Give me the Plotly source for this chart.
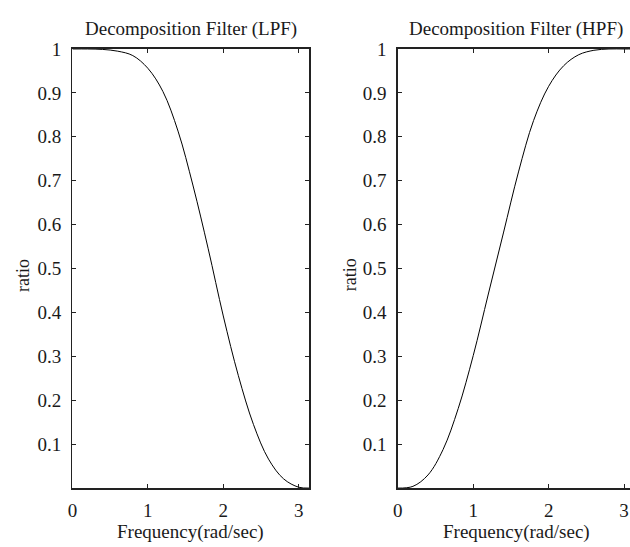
import plotly.graph_objects as go
from plotly.subplots import make_subplots

# Data
freq = [0.0, 0.2, 0.4, 0.6, 0.8, 1.0, 1.2, 1.4, 1.6, 1.8, 2.0, 2.2, 2.4, 2.6, 2.8, 3.0, 3.1416]
lpf = [1.0, 1.0, 0.999, 0.995, 0.985, 0.956, 0.903, 0.813, 0.688, 0.545, 0.392, 0.256, 0.145, 0.066, 0.021, 0.002, 0.0]
hpf = [0.0, 0.004, 0.030, 0.088, 0.181, 0.302, 0.442, 0.581, 0.720, 0.837, 0.915, 0.962, 0.987, 0.997, 1.0, 1.0, 1.0]

y_ticks = [0.1, 0.2, 0.3, 0.4, 0.5, 0.6, 0.7, 0.8, 0.9, 1.0]
y_ticktext = ["0.1", "0.2", "0.3", "0.4", "0.5", "0.6", "0.7", "0.8", "0.9", "1"]
x_ticks = [0, 1, 2, 3]
x_ticktext = ["0", "1", "2", "3"]

titles = ["Decomposition Filter (LPF)", "Decomposition Filter (HPF)"]
x_title = "Frequency(rad/sec)"
y_title = "ratio"

W, H = 630, 547
FONT = "Liberation Serif, Times New Roman, serif"
FS = 19
TXT = "#1a1a1a"

fig = make_subplots(rows=1, cols=2)

fig.add_trace(go.Scatter(x=freq, y=lpf, mode="lines",
                         line=dict(color="black", width=1, shape="spline", smoothing=1.0),
                         showlegend=False, hoverinfo="skip"), row=1, col=1)
fig.add_trace(go.Scatter(x=freq, y=hpf, mode="lines",
                         line=dict(color="black", width=1, shape="spline", smoothing=1.0),
                         showlegend=False, hoverinfo="skip"), row=1, col=2)

# pixel geometry
left_x0, left_x1 = 68, 306.8
right_x0 = 396
px_per_unit = 76.0
top_px, bot_px = 39.7, 487

ydom = [(H - bot_px) / H, (H - top_px) / H]

axis_common = dict(showgrid=False, zeroline=False, showline=True, linecolor="#222", linewidth=1.5,
                   ticks="inside", ticklen=4, tickwidth=1, tickcolor="#222",
                   tickfont=dict(family=FONT, size=FS, color=TXT))

fig.update_xaxes(**axis_common, tickvals=x_ticks, ticktext=x_ticktext, mirror="ticks", ticklabelstandoff=5)
fig.update_yaxes(**axis_common, tickvals=y_ticks, ticktext=y_ticktext, range=[0, 1], domain=ydom,
                 ticklabelstandoff=6)

fig.update_xaxes(domain=[left_x0 / W, left_x1 / W], range=[0, 3.1416], row=1, col=1)
fig.update_xaxes(domain=[right_x0 / W, 1.0], range=[0, (W - right_x0) / px_per_unit], row=1, col=2)
fig.update_yaxes(mirror="ticks", row=1, col=1)
fig.update_yaxes(mirror=False, row=1, col=2)

centers = [(left_x0 + left_x1) / 2, right_x0 + 3.1416 * px_per_unit / 2]
ratio_x = [18, 348]
for i in range(2):
    fig.add_annotation(text=titles[i], x=centers[i] / W, y=(H - 19) / H, xref="paper", yref="paper",
                       showarrow=False, xanchor="center", yanchor="middle",
                       font=dict(family=FONT, size=FS, color=TXT))
    fig.add_annotation(text=x_title, x=centers[i] / W, y=(H - 532) / H, xref="paper", yref="paper",
                       showarrow=False, xanchor="center", yanchor="middle",
                       font=dict(family=FONT, size=FS, color=TXT))
    fig.add_annotation(text=y_title, x=ratio_x[i] / W, y=(H - 270) / H, xref="paper", yref="paper",
                       showarrow=False, xanchor="center", yanchor="middle", textangle=-90,
                       font=dict(family=FONT, size=FS - 1, color=TXT))

fig.update_layout(width=W, height=H, margin=dict(l=0, r=0, t=0, b=0),
                  paper_bgcolor="white", plot_bgcolor="white", showlegend=False, hovermode=False)

fig.write_html("out.html", config={"displayModeBar": False, "staticPlot": True},
               post_script="document.body.style.margin='0';document.body.style.overflow='hidden';")
